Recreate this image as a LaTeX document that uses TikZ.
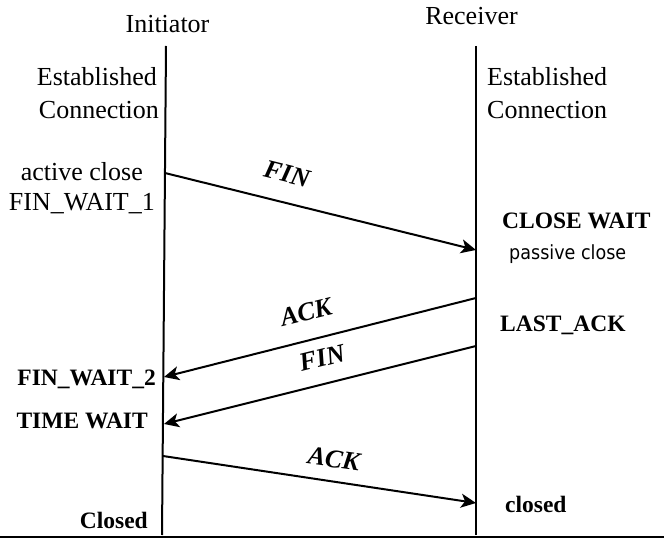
\documentclass[tikz,border=0pt]{standalone}
\usepackage{fontspec}
\setmainfont{Liberation Serif}
\newfontfamily\sansf[FakeStretch=0.9]{DejaVu Sans}
\usetikzlibrary{arrows.meta}
\tikzset{
  reg/.style={inner sep=0pt, font=\fontsize{26}{26}\selectfont},
  st/.style={inner sep=0pt, font=\fontsize{23.5}{24}\selectfont\bfseries},
  msg/.style={inner sep=0pt, font=\fontsize{26}{26}\selectfont\bfseries\itshape},
  life/.style={line width=2pt},
  arr/.style={line width=2pt, -{Stealth[length=15pt,width=14pt,inset=4pt]}},
}
\begin{document}
\begin{tikzpicture}[x=1pt,y=-1pt]
\useasboundingbox (0,0) rectangle (664,540);
% lifelines
\coordinate (ltop) at (166,46);
\coordinate (lbot) at (162,535);
\coordinate (rtop) at (476,46);
\coordinate (rbot) at (476,535);
\draw[life] (ltop) -- (lbot);
\draw[life] (rtop) -- (rbot);
\coordinate (bl) at (0,537);
\coordinate (br) at (664,537);
\draw[life] (bl) -- (br);
% headers
\node[reg, anchor=base] (init) at (167.5,33) {Initiator};
\node[reg, anchor=base] (recv) at (471.5,25) {Receiver};
% left states
\node[reg, anchor=base east] (lest) at (157,86) {Established};
\node[reg, anchor=base east] (lcon) at (159,119) {Connection};
\node[reg, anchor=base east] (act) at (143,181) {active close};
\node[reg, anchor=base east] (fw1) at (155,211) {FIN\_WAIT\_1};
\node[st, anchor=base east] (fw2) at (156,385) {FIN\_WAIT\_2};
\node[st, anchor=base east] (tw) at (148,428) {TIME WAIT};
\node[st, anchor=base east] (lcl) at (148,528) {Closed};
% right states
\node[reg, anchor=base west] (rest) at (487,86) {Established};
\node[reg, anchor=base west] (rcon) at (487,119) {Connection};
\node[st, anchor=base west] (cw) at (502,229) {CLOSE WAIT};
\node[inner sep=0pt, anchor=base west, font=\fontsize{19.5}{20}\selectfont\sansf] (pc) at (509,259) {passive close};
\node[st, anchor=base west] (la) at (500,331) {LAST\_ACK};
\node[st, anchor=base west] (rcl) at (505,512) {closed};
% message endpoints
\coordinate (m1s) at (165,173);
\coordinate (m1e) at (476,250);
\coordinate (m2s) at (476,298);
\coordinate (m2e) at (164,377);
\coordinate (m3s) at (476,346);
\coordinate (m3e) at (164,424);
\coordinate (m4s) at (163,456);
\coordinate (m4e) at (476,503);
\draw[arr] (m1s) -- (m1e);
\draw[arr] (m2s) -- (m2e);
\draw[arr] (m3s) -- (m3e);
\draw[arr] (m4s) -- (m4e);
% message labels
\node[msg, rotate=-14] (l1) at (287,174) {FIN};
\node[msg, rotate=14] (l2) at (306,312) {ACK};
\node[msg, rotate=14] (l3) at (322,358) {FIN};
\node[msg, rotate=-8] (l4) at (334,459) {ACK};
\end{tikzpicture}
\end{document}
